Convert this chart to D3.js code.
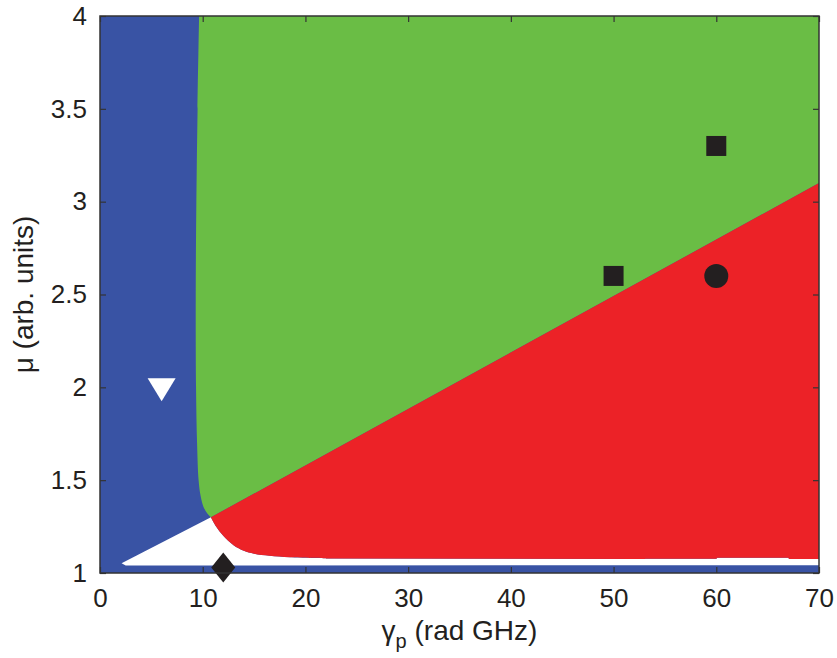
<!DOCTYPE html>
<html>
<head>
<meta charset="utf-8">
<script src="https://cdn.jsdelivr.net/npm/d3@7"></script>
<style>
  body { margin: 0; background: #fff; }
  text { font-family: "Liberation Sans", Arial, sans-serif; fill: #231f20; }
</style>
</head>
<body>
<div id="canvas"></div>
<script>
// axis ticks
var xTicks = [0, 10, 20, 30, 40, 50, 60, 70];
var yTicks = [1, 1.5, 2, 2.5, 3, 3.5, 4];

// left edge of the green region (gamma for each mu), top to bottom
var greenEdgeMu    = [4, 3.5, 3, 2.5, 2, 1.7, 1.5, 1.42, 1.36, 1.32, 1.3];
var greenEdgeGamma = [9.65, 9.5, 9.38, 9.32, 9.35, 9.45, 9.6, 9.78, 10.05, 10.45, 10.8];

// green / red straight border, from triple point to right edge
var borderGamma = [10.8, 70];
var borderMu    = [1.3, 3.1];

// lower edge of the red region, curved part (left to right)
var redCurveGamma = [10.8, 11.3, 12, 13, 14, 15, 16.5, 18.5, 22];
var redCurveMu    = [1.3, 1.25, 1.2, 1.15, 1.12, 1.104, 1.093, 1.085, 1.08];
// lower edge of the red region, flat part with small steps
var redFlatGamma = [22, 53, 53.1, 60, 60.1, 67, 67.1, 70];
var redFlatMu    = [1.078, 1.075, 1.077, 1.077, 1.082, 1.082, 1.076, 1.076];

// white wedge: tip and floor
var wedgeTip = [2.1, 1.053];
var wedgeFloorMu = 1.04;

// markers
var squares  = [[50, 2.6], [60, 3.3]];
var circles  = [[60, 2.6]];
var diamonds = [[12, 1.03]];
var triangles = [[6, 2]];

var width = 837, height = 658;
var margin = {top: 16, right: 18, bottom: 85, left: 100};

var x = d3.scaleLinear().domain([0, 70]).range([margin.left, width - margin.right]);
var y = d3.scaleLinear().domain([1, 4]).range([height - margin.bottom, margin.top]);

var svg = d3.select("#canvas").append("svg")
    .attr("width", width)
    .attr("height", height);

var line = d3.line().x(function(d) { return x(d[0]); }).y(function(d) { return y(d[1]); });
var smooth = d3.line().x(function(d) { return x(d[0]); }).y(function(d) { return y(d[1]); })
    .curve(d3.curveCatmullRom.alpha(0.5));

function zip(a, b) { return a.map(function(v, i) { return [v, b[i]]; }); }
// continue a path with straight segments
function lineTo(pts) {
  return pts.map(function(d) { return "L" + x(d[0]) + "," + y(d[1]); }).join("");
}
// smooth curve without its leading move
function curveOn(pts) { return smooth(pts).replace(/^M[^A-Za-z]*/, ""); }

var greenEdge = zip(greenEdgeGamma, greenEdgeMu);
var border = zip(borderGamma, borderMu);
var redCurve = zip(redCurveGamma, redCurveMu);
var redFlat = zip(redFlatGamma, redFlatMu);

// blue background
svg.append("rect")
    .attr("x", x(0)).attr("y", y(4))
    .attr("width", x(70) - x(0)).attr("height", y(1) - y(4))
    .attr("fill", "#3953a4");

// white wedge
var whiteD = line([wedgeTip, redCurve[0]]) + curveOn(redCurve) + lineTo(redFlat) +
    lineTo([[70, wedgeFloorMu + 0.002], [wedgeTip[0] + 0.4, wedgeFloorMu]]) + "Z";
svg.append("path").attr("d", whiteD).attr("fill", "#fff");

// green region
var greenD = smooth(greenEdge) + lineTo([border[1], [70, 4]]) + "Z";
svg.append("path").attr("d", greenD).attr("fill", "#6abd45");

// red region
var redD = smooth(redCurve) + lineTo(redFlat) + lineTo([border[1], border[0]]) + "Z";
svg.append("path").attr("d", redD).attr("fill", "#ec2227");

// markers
var ink = "#231f20";
svg.selectAll(".sq").data(squares).enter().append("rect")
    .attr("x", function(d) { return x(d[0]) - 10; })
    .attr("y", function(d) { return y(d[1]) - 10; })
    .attr("width", 20).attr("height", 20)
    .attr("fill", ink);

svg.selectAll(".ci").data(circles).enter().append("circle")
    .attr("cx", function(d) { return x(d[0]); })
    .attr("cy", function(d) { return y(d[1]); })
    .attr("r", 12)
    .attr("fill", ink);

svg.selectAll(".di").data(diamonds).enter().append("path")
    .attr("d", function(d) {
      var cx = x(d[0]), cy = y(d[1]);
      return "M" + cx + "," + (cy - 15) + "L" + (cx + 12) + "," + cy +
             "L" + cx + "," + (cy + 15) + "L" + (cx - 12) + "," + cy + "Z";
    })
    .attr("fill", ink);

svg.selectAll(".tr").data(triangles).enter().append("path")
    .attr("d", function(d) {
      var cx = x(d[0]), cy = y(d[1]);
      return "M" + (cx - 14) + "," + (cy - 9) + "L" + (cx + 14) + "," + (cy - 9) +
             "L" + cx + "," + (cy + 14) + "Z";
    })
    .attr("fill", "#fff");

// axes (ticks point inward, MATLAB style)
var fmt = function(d) { return String(d); };

var gx = svg.append("g")
    .attr("transform", "translate(0," + y(1) + ")")
    .call(d3.axisBottom(x).tickValues(xTicks).tickFormat(fmt).tickSizeInner(-6).tickSizeOuter(0).tickPadding(16));
var gxTop = svg.append("g")
    .attr("transform", "translate(0," + y(4) + ")")
    .call(d3.axisTop(x).tickValues(xTicks).tickFormat("").tickSizeInner(-6).tickSizeOuter(0));
var gy = svg.append("g")
    .attr("transform", "translate(" + x(0) + ",0)")
    .call(d3.axisLeft(y).tickValues(yTicks).tickFormat(fmt).tickSizeInner(-6).tickSizeOuter(0).tickPadding(13));
var gyRight = svg.append("g")
    .attr("transform", "translate(" + x(70) + ",0)")
    .call(d3.axisRight(y).tickValues(yTicks).tickFormat("").tickSizeInner(-6).tickSizeOuter(0));

[gx, gxTop, gy, gyRight].forEach(function(g) {
  g.select(".domain").remove();
  g.selectAll("line").attr("stroke", "#333").attr("stroke-width", 1.2);
  g.selectAll("text").attr("font-size", 26).attr("fill", ink)
    .style("font-family", "'Liberation Sans', Arial, sans-serif");
});

// box
svg.append("rect")
    .attr("x", x(0)).attr("y", y(4))
    .attr("width", x(70) - x(0)).attr("height", y(1) - y(4))
    .attr("fill", "none").attr("stroke", "#333").attr("stroke-width", 1.5);

// axis labels
var xl = svg.append("text")
    .attr("x", (x(0) + x(70)) / 2)
    .attr("y", 640)
    .attr("text-anchor", "middle")
    .attr("font-size", 28);
xl.append("tspan").text("γ");
xl.append("tspan").attr("font-size", 20).attr("dy", 8).text("p");
xl.append("tspan").attr("dy", -8).text(" (rad GHz)");

svg.append("text")
    .attr("transform", "translate(33," + (y(1) + y(4)) / 2 + ") rotate(-90)")
    .attr("text-anchor", "middle")
    .attr("font-size", 28)
    .text("μ (arb. units)");
</script>
</body>
</html>
